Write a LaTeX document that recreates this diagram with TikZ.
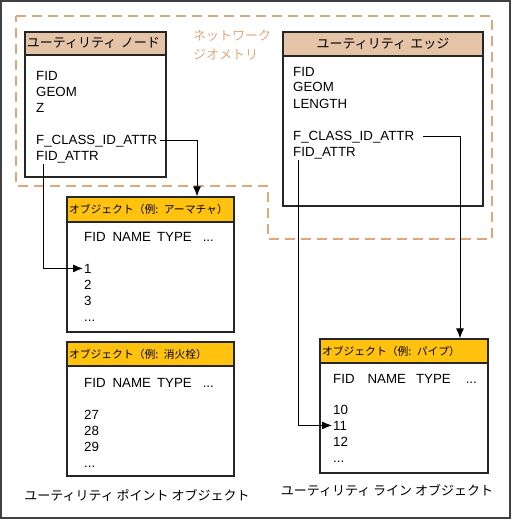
\documentclass[tikz,border=0pt]{standalone}
\usepackage{fontspec}
\setmainfont{Liberation Sans}
\newfontfamily\jp{Noto Sans CJK JP}
\usetikzlibrary{arrows.meta}
\definecolor{hdrtan}{RGB}{229,195,166}
\definecolor{objyel}{RGB}{255,194,14}
\definecolor{netorange}{RGB}{222,168,124}
\tikzset{
	tbl/.style 2 args={draw=black!85,line width=1.2pt,fill=white,inner sep=0pt,minimum width=#1pt,minimum height=#2pt},
	hdr/.style 2 args={tbl={#1}{#2},text width=#1pt-4pt,inner xsep=2pt,align=left,font=\jp\fontsize{13}{15}\selectfont},
	ohdr/.style 2 args={hdr={#1}{#2},fill=objyel,font=\jp\fontsize{10.8}{13}\selectfont},
	fld/.style={anchor=base west,inner sep=1pt,font=\fontsize{13.3}{16}\selectfont},
	caption/.style={font=\jp\fontsize{13}{15}\selectfont},
	ref/.style={-{Latex[length=10pt,width=8pt]},line width=1pt}
}

\begin{document}
\begin{tikzpicture}[x=1pt,y=-1pt]
	\useasboundingbox (0,0) rectangle (511,519);
	\draw [black!75,line width=1.5pt] (1,1) rectangle (510,518);

	% network geometry area
	\draw [netorange,line width=1.2pt,dash pattern=on 10pt off 6pt] (16,16) -- (492,16) -- (492,239) -- (268,239) -- (268,186) -- (16,186) -- cycle;
	\node [netorange,font=\jp\fontsize{13}{19}\selectfont,align=left,anchor=north west,inner sep=0pt] (netlbl) at (193,30) {ネットワーク\\ジオメトリ};

	% utility node
	\node [tbl={141}{145}] (nbox) at (95.5,104.5) {};
	\node [hdr={141}{23},fill=hdrtan] (nhd) at (95.5,43.5) {ユーティリティ ノード};
	\node [fld] (nfid) at (35,80) {FID};
	\node [fld] (ngeom) at (35,96) {GEOM};
	\node [fld] (nz) at (35,112) {Z};
	\node [fld] (ncls) at (35,144) {F\_CLASS\_ID\_ATTR};
	\node [fld] (nattr) at (35,160) {FID\_ATTR};

	% utility edge
	\node [tbl={200}{174}] (ebox) at (383,119) {};
	\node [hdr={200}{24},fill=hdrtan,align=center] (ehd) at (383,44) {ユーティリティ エッジ};
	\node [fld] (efid) at (292,76) {FID};
	\node [fld] (egeom) at (292,92) {GEOM};
	\node [fld] (elen) at (292,108) {LENGTH};
	\node [fld] (ecls) at (292,140) {F\_CLASS\_ID\_ATTR};
	\node [fld] (eattr) at (292,156) {FID\_ATTR};

	% armature objects
	\node [tbl={167}{135}] (arm) at (150.5,264.5) {};
	\node [ohdr={167}{25}] (armhd) at (150.5,209.5) {オブジェクト（例: アーマチャ）};
	\node [fld] (armcol) at (83,241) {FID\hspace{7pt}NAME\hspace{6pt}TYPE\hspace{11pt}...};
	\node [fld] (arm1) at (83,273) {1};
	\node [fld] (arm2) at (83,289) {2};
	\node [fld] (arm3) at (83,305) {3};
	\node [fld] (armx) at (83,321) {...};

	% hydrant objects
	\node [tbl={167}{134}] (hyd) at (150.5,409) {};
	\node [ohdr={167}{24}] (hydhd) at (150.5,354) {オブジェクト（例: 消火栓）};
	\node [fld] (hydcol) at (83,387) {FID\hspace{7pt}NAME\hspace{6pt}TYPE\hspace{11pt}...};
	\node [fld] (hyd27) at (83,419) {27};
	\node [fld] (hyd28) at (83,435) {28};
	\node [fld] (hyd29) at (83,451) {29};
	\node [fld] (hydx) at (83,467) {...};

	% pipe objects
	\node [tbl={168}{134}] (pipe) at (404,406) {};
	\node [ohdr={168}{24}] (pipehd) at (404,351) {オブジェクト（例: パイプ）};
	\node [fld] (pipecol) at (332,383) {FID\hspace{13pt}NAME\hspace{10pt}TYPE\hspace{15pt}...};
	\node [fld] (pipe10) at (332,414) {10};
	\node [fld] (pipe11) at (332,430) {11};
	\node [fld] (pipe12) at (332,446) {12};
	\node [fld] (pipex) at (332,462) {...};

	\node [caption] (ptcap) at (137,495) {ユーティリティ ポイント オブジェクト};
	\node [caption] (lncap) at (387,490) {ユーティリティ ライン オブジェクト};

	% references
	\draw [ref] ([xshift=2pt]ncls.east) -| ([xshift=46.5pt]armhd.north);
	\draw [ref] ([xshift=8pt]nattr.south west) |- (arm1.west);
	\draw [ref] ([xshift=8pt]ecls.east) -| ([xshift=56pt]pipehd.north);
	\draw [ref] ([xshift=6pt]eattr.south west) |- (pipe11.west);
\end{tikzpicture}
\end{document}
